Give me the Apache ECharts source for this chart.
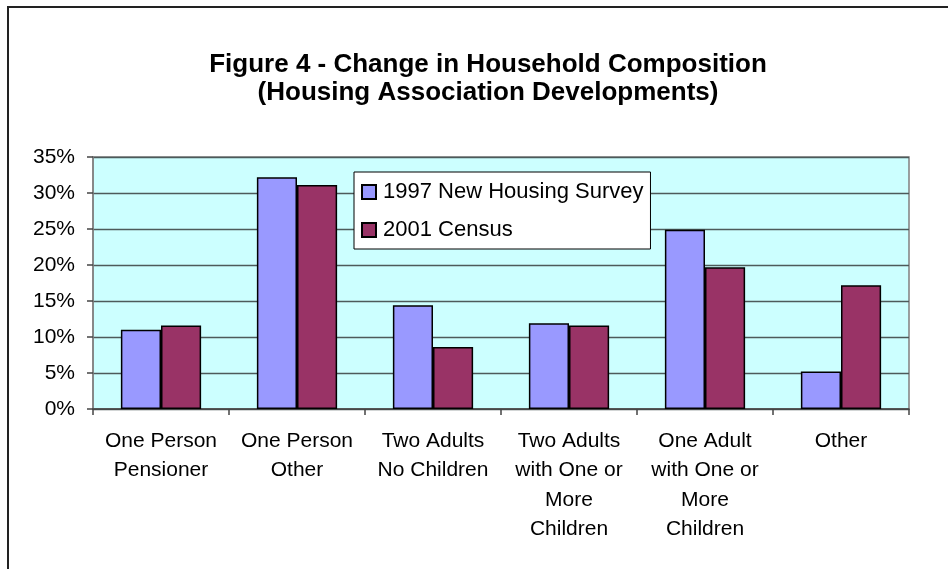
<!DOCTYPE html>
<html>
<head>
<meta charset="utf-8">
<script src="https://cdn.jsdelivr.net/npm/echarts@6/dist/echarts.min.js"></script>
<style>
  html, body { margin: 0; padding: 0; background: #fff; }
  #main { width: 948px; height: 569px; }
</style>
</head>
<body>
<div id="main"></div>
<script>
var categories = [
    'One Person\nPensioner',
    'One Person\nOther',
    'Two Adults\nNo Children',
    'Two Adults\nwith One or\nMore\nChildren',
    'One Adult\nwith One or\nMore\nChildren',
    'Other'
];
var survey1997 = [11.0, 32.2, 14.4, 11.9, 24.9, 5.2];
var census2001 = [11.6, 31.1, 8.6, 11.6, 19.7, 17.2];
var yTicks = [0, 5, 10, 15, 20, 25, 30, 35];

var font = '"Liberation Sans", Arial, sans-serif';

var myChart = echarts.init(document.getElementById('main'));

var option = {
    backgroundColor: '#fff',
    animation: false,
    title: {
        text: 'Figure 4 - Change in Household Composition\n(Housing Association Developments)',
        left: 483,
        textAlign: 'center',
        top: 46,
        textStyle: {
            fontFamily: font,
            fontWeight: 'bold',
            fontSize: 26,
            lineHeight: 28,
            color: '#000'
        }
    },
    // frame round the whole chart
    graphic: [
        {
            type: 'rect',
            shape: { x: 8, y: 7, width: 1000, height: 1000 },
            style: { fill: 'none', stroke: '#222', lineWidth: 2 },
            silent: true
        }
    ],
    legend: {
        orient: 'vertical',
        left: 354,
        top: 172,
        padding: [9, 7, 8, 7],
        itemGap: 16,
        itemWidth: 14,
        itemHeight: 14,
        icon: 'rect',
        backgroundColor: '#fff',
        borderColor: '#000',
        borderWidth: 1,
        textStyle: { fontFamily: font, fontSize: 22, color: '#000', padding: [0, 0, 0, 2] },
        data: ['1997 New Housing Survey', '2001 Census']
    },
    grid: {
        left: 93,
        right: 39,
        top: 157,
        bottom: 160,
        show: true,
        backgroundColor: '#CCFFFF',
        borderColor: '#808080',
        borderWidth: 1.5
    },
    xAxis: {
        type: 'category',
        data: categories,
        axisLine: { lineStyle: { color: '#444', width: 1.5 } },
        axisTick: { show: true, length: 6, lineStyle: { color: '#444', width: 1.5 } },
        axisLabel: {
            interval: 0,
            margin: 17,
            fontFamily: font,
            fontSize: 21,
            lineHeight: 29.5,
            color: '#000',
            align: 'center'
        }
    },
    yAxis: {
        type: 'value',
        min: 0,
        max: 35,
        interval: 5,
        axisLine: { show: true, lineStyle: { color: '#808080', width: 1.5 } },
        axisTick: { show: true, length: 6, lineStyle: { color: '#444', width: 1.5 } },
        splitLine: { lineStyle: { color: '#4d5a5a', width: 1.3 } },
        axisLabel: {
            margin: 18,
            fontFamily: font,
            fontSize: 21,
            color: '#000',
            formatter: function (v) {
                return yTicks.indexOf(v) >= 0 ? v + '%' : '';
            }
        }
    },
    series: [
        {
            name: '1997 New Housing Survey',
            type: 'bar',
            data: survey1997,
            barGap: '0%',
            barCategoryGap: '41%',
            itemStyle: { color: '#9999FF', borderColor: '#000', borderWidth: 1.5 }
        },
        {
            name: '2001 Census',
            type: 'bar',
            data: census2001,
            barGap: '0%',
            barCategoryGap: '41%',
            itemStyle: { color: '#993366', borderColor: '#000', borderWidth: 1.5 }
        }
    ]
};

myChart.setOption(option);
</script>
</body>
</html>
